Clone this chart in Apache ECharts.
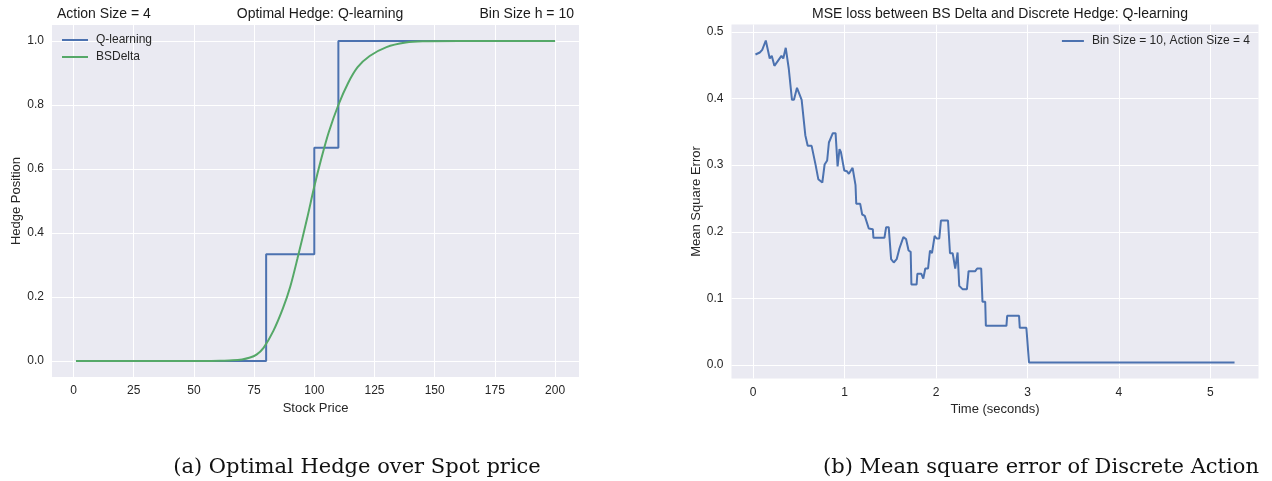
<!DOCTYPE html>
<html>
<head>
<meta charset="utf-8">
<script src="https://cdn.jsdelivr.net/npm/echarts@6/dist/echarts.min.js"></script>
<style>
  html, body { margin: 0; padding: 0; background: #fff; }
  #chart { width: 1272px; height: 481px; }
</style>
</head>
<body>
<div id="chart"></div>
<script>
// left panel: hedge position vs stock price
const qPrice = [10, 80, 100, 110, 200];
const qHedge = [0, 1 / 3, 2 / 3, 1, 1];
const bsPrice = [1, 30, 55, 62, 66, 70, 73, 76, 79, 83, 87, 90, 93, 97, 100, 103, 106, 110, 114, 118, 123, 130, 138, 145, 160, 200];
const bsDelta = [0, 0, 0, 0.001, 0.002, 0.005, 0.01, 0.02, 0.042, 0.094, 0.165, 0.232, 0.32, 0.445, 0.545, 0.635, 0.715, 0.80, 0.868, 0.918, 0.953, 0.981, 0.995, 0.999, 1, 1];
const priceTicks = [0, 25, 50, 75, 100, 125, 150, 175, 200];
const hedgeTicks = [0, 0.2, 0.4, 0.6, 0.8, 1.0];

// right panel: MSE over time
const mseTime = [0.026, 0.073, 0.10, 0.139, 0.182, 0.204, 0.233, 0.31, 0.33, 0.357, 0.39, 0.425, 0.447, 0.48, 0.50, 0.531, 0.571, 0.597, 0.64, 0.684, 0.713, 0.757, 0.782, 0.81, 0.829, 0.85, 0.872, 0.902, 0.924, 0.945, 0.96, 0.997, 1.025, 1.047, 1.088, 1.12, 1.128, 1.171, 1.193, 1.221, 1.265, 1.309, 1.316, 1.436, 1.455, 1.483, 1.509, 1.538, 1.57, 1.59, 1.60, 1.62, 1.643, 1.673, 1.70, 1.723, 1.731, 1.788, 1.796, 1.84, 1.861, 1.883, 1.913, 1.934, 1.956, 1.985, 2.007, 2.036, 2.054, 2.131, 2.153, 2.182, 2.21, 2.236, 2.254, 2.29, 2.338, 2.356, 2.429, 2.45, 2.494, 2.508, 2.538, 2.545, 2.77, 2.778, 2.908, 2.916, 2.988, 3.017, 5.264];
const mseValue = [0.466, 0.469, 0.473, 0.487, 0.46, 0.464, 0.449, 0.464, 0.46, 0.476, 0.445, 0.398, 0.398, 0.416, 0.416, 0.398, 0.345, 0.329, 0.329, 0.30, 0.279, 0.274, 0.301, 0.307, 0.334, 0.335, 0.348, 0.348, 0.298, 0.324, 0.32, 0.292, 0.291, 0.287, 0.296, 0.27, 0.242, 0.242, 0.226, 0.224, 0.205, 0.204, 0.191, 0.191, 0.207, 0.207, 0.159, 0.154, 0.159, 0.159, 0.175, 0.177, 0.192, 0.189, 0.172, 0.17, 0.121, 0.121, 0.137, 0.137, 0.13, 0.145, 0.145, 0.172, 0.168, 0.194, 0.19, 0.19, 0.217, 0.217, 0.168, 0.168, 0.145, 0.169, 0.119, 0.114, 0.114, 0.141, 0.141, 0.145, 0.145, 0.095, 0.095, 0.059, 0.059, 0.074, 0.074, 0.056, 0.056, 0.004, 0.004];
const timeTicks = [0, 1, 2, 3, 4, 5];
const mseTicks = [0, 0.1, 0.2, 0.3, 0.4, 0.5];

const BG = "#EAEAF2";
const TXT = "#262626";
const FONT = "Liberation Sans";

function zip(xs, ys) {
  return xs.map((x, i) => [x, ys[i]]);
}

function valueAxis(min, max, ticks, fmt, extra) {
  return Object.assign({
    type: "value",
    min: min,
    max: max,
    axisLine: { show: false },
    axisTick: { show: false, customValues: ticks },
    axisLabel: {
      customValues: ticks,
      color: TXT,
      fontFamily: FONT,
      fontSize: 12,
      formatter: fmt,
    },
    splitLine: { show: true, lineStyle: { color: "#fff", width: 1 } },
    nameLocation: "middle",
    nameTextStyle: { color: TXT, fontFamily: FONT, fontSize: 13 },
  }, extra);
}

const titleStyle = { color: "#1a1a1a", fontFamily: FONT, fontSize: 14, fontWeight: "normal" };
const captionStyle = { color: "#111", fontFamily: "DejaVu Serif", fontSize: 21, fontWeight: "normal" };

const option = {
  animation: false,
  backgroundColor: "#fff",
  title: [
    { text: "Action Size = 4", left: 52, top: 2, textStyle: titleStyle },
    { text: "Optimal Hedge: Q-learning", left: 315, top: 2, textAlign: "center", textStyle: titleStyle },
    { text: "Bin Size h = 10", right: 1272 - 579, top: 2, textStyle: titleStyle },
    { text: "MSE loss between BS Delta and Discrete Hedge: Q-learning", left: 995, top: 2, textAlign: "center", textStyle: titleStyle },
    { text: "(a) Optimal Hedge over Spot price", left: 352, top: 452, textAlign: "center", textStyle: captionStyle },
    { text: "(b) Mean square error of Discrete Action", left: 1036, top: 452, textAlign: "center", textStyle: captionStyle },
  ],
  legend: [
    {
      data: ["Q-learning", "BSDelta"],
      orient: "vertical",
      left: 62,
      top: 34,
      padding: 0,
      icon: "rect",
      itemWidth: 26,
      itemHeight: 2,
      itemGap: 5,
      textStyle: { color: TXT, fontFamily: FONT, fontSize: 12, padding: [0, 0, 0, 3] },
    },
    {
      data: ["Bin Size = 10, Action Size = 4"],
      right: 22,
      top: 35,
      padding: 0,
      icon: "rect",
      itemWidth: 22,
      itemHeight: 2,
      textStyle: { color: TXT, fontFamily: FONT, fontSize: 12, padding: [0, 0, 0, 3] },
    },
  ],
  grid: [
    { left: 52, top: 25, width: 527, height: 352, backgroundColor: BG, show: true, borderWidth: 0 },
    { left: 731.5, top: 24.5, width: 527, height: 354, backgroundColor: BG, show: true, borderWidth: 0 },
  ],
  xAxis: [
    valueAxis(-8.95, 209.95, priceTicks, (v) => String(v), {
      gridIndex: 0, name: "Stock Price", nameGap: 22,
    }),
    valueAxis(-0.236, 5.526, timeTicks, (v) => String(v), {
      gridIndex: 1, name: "Time (seconds)", nameGap: 22,
    }),
  ],
  yAxis: [
    valueAxis(-0.05, 1.05, hedgeTicks, (v) => v.toFixed(1), {
      gridIndex: 0, name: "Hedge Position", nameGap: 29,
    }),
    valueAxis(-0.02, 0.511, mseTicks, (v) => v.toFixed(1), {
      gridIndex: 1, name: "Mean Square Error", nameGap: 29,
    }),
  ],
  series: [
    {
      name: "Q-learning",
      type: "line",
      xAxisIndex: 0,
      yAxisIndex: 0,
      step: "end",
      symbol: "none",
      lineStyle: { color: "#4C72B0", width: 2 },
      itemStyle: { color: "#4C72B0" },
      data: zip(qPrice, qHedge),
      z: 3,
    },
    {
      name: "BSDelta",
      type: "line",
      xAxisIndex: 0,
      yAxisIndex: 0,
      smooth: 0.3,
      symbol: "none",
      lineStyle: { color: "#55A868", width: 2 },
      itemStyle: { color: "#55A868" },
      data: zip(bsPrice, bsDelta),
      z: 4,
    },
    {
      name: "Bin Size = 10, Action Size = 4",
      type: "line",
      xAxisIndex: 1,
      yAxisIndex: 1,
      symbol: "none",
      lineStyle: { color: "#4C72B0", width: 2 },
      itemStyle: { color: "#4C72B0" },
      data: zip(mseTime, mseValue),
    },
  ],
};

const myChart = echarts.init(document.getElementById("chart"));
myChart.setOption(option);
</script>
</body>
</html>
